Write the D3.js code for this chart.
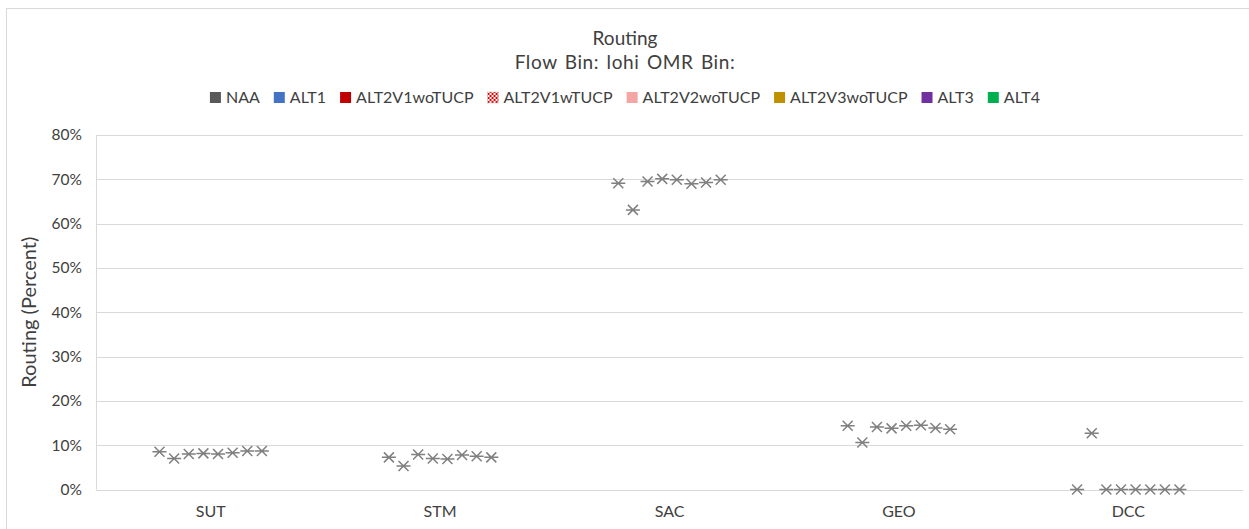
<!DOCTYPE html>
<html>
<head>
<meta charset="utf-8">
<script src="https://cdn.jsdelivr.net/npm/d3@7"></script>
<style>
  html, body { margin: 0; padding: 0; background: #fff; }
  svg { display: block; font-family: Lato, "Open Sans", sans-serif; }
</style>
</head>
<body>
<svg id="chart" width="1249" height="529"></svg>
<script>
const categories = ["SUT", "STM", "SAC", "GEO", "DCC"];
const seriesNames = ["NAA", "ALT1", "ALT2V1woTUCP", "ALT2V1wTUCP", "ALT2V2woTUCP", "ALT2V3woTUCP", "ALT3", "ALT4"];
const seriesColors = ["#595959", "#4472C4", "#C00000", "pattern", "#F4A6A4", "#BF9000", "#7030A0", "#00B050"];
// values in percent, one array per series (order follows categories)
const NAA          = [8.5, 7.25, 69.1, 14.4, 0.0];
const ALT1         = [7.0, 5.3, 63.1, 10.6, 12.7];
const ALT2V1woTUCP = [8.0, 7.9, 69.5, 14.1, 0.0];
const ALT2V1wTUCP  = [8.15, 7.0, 70.1, 13.8, 0.0];
const ALT2V2woTUCP = [8.0, 6.9, 69.9, 14.4, 0.0];
const ALT2V3woTUCP = [8.3, 7.8, 69.0, 14.5, 0.0];
const ALT3         = [8.7, 7.5, 69.3, 13.9, 0.0];
const ALT4         = [8.7, 7.25, 69.9, 13.6, 0.0];
const seriesValues = [NAA, ALT1, ALT2V1woTUCP, ALT2V1wTUCP, ALT2V2woTUCP, ALT2V3woTUCP, ALT3, ALT4];
const yTicks = [0, 10, 20, 30, 40, 50, 60, 70, 80];

const svg = d3.select("#chart");
const plot = { left: 96, right: 1243, top: 135, bottom: 489.5 };

// pattern for ALT2V1wTUCP
const defs = svg.append("defs");
const pat = defs.append("pattern").attr("id", "checker").attr("patternUnits", "userSpaceOnUse")
  .attr("width", 4).attr("height", 4);
pat.append("rect").attr("width", 4).attr("height", 4).attr("fill", "#fff");
pat.append("rect").attr("width", 2).attr("height", 2).attr("fill", "#E00000");
pat.append("rect").attr("x", 2).attr("y", 2).attr("width", 2).attr("height", 2).attr("fill", "#E00000");

// outer chart border
svg.append("rect").attr("x", 6.5).attr("y", 8.5).attr("width", 1260).attr("height", 540)
  .attr("fill", "none").attr("stroke", "#d9d9d9").attr("stroke-width", 1);

const x0 = d3.scaleBand().domain(categories).range([plot.left, plot.right]);
const x1 = d3.scalePoint().domain(seriesNames).range([-51.2, 51.2]);
const y = d3.scaleLinear().domain([0, 80]).range([plot.bottom, plot.top]);

// gridlines
svg.append("g").selectAll("line").data(yTicks).join("line")
  .attr("x1", plot.left).attr("x2", plot.right)
  .attr("y1", d => Math.round(y(d)) + 0.5).attr("y2", d => Math.round(y(d)) + 0.5)
  .attr("stroke", "#d9d9d9").attr("stroke-width", 1);
svg.append("line").attr("x1", plot.left + 0.5).attr("x2", plot.left + 0.5)
  .attr("y1", y(80)).attr("y2", y(0)).attr("stroke", "#d9d9d9");

// y axis
const yAxis = d3.axisLeft(y).tickValues(yTicks).tickFormat(d => d + "%").tickSize(0).tickPadding(14);
const gy = svg.append("g").attr("transform", `translate(${plot.left},0)`).call(yAxis);
gy.select(".domain").remove();
gy.selectAll("text").attr("font-size", 15.5).attr("fill", "#404040").attr("font-family", "Lato, sans-serif");

// x axis
const xAxis = d3.axisBottom(x0).tickSize(0).tickPadding(16);
const gx = svg.append("g").attr("transform", `translate(0,${plot.bottom})`).call(xAxis);
gx.select(".domain").remove();
gx.selectAll("text").attr("font-size", 16).attr("fill", "#404040").attr("font-family", "Lato, sans-serif");

// y title
svg.append("text").attr("transform", `translate(36,${(plot.top + plot.bottom) / 2}) rotate(-90)`)
  .attr("text-anchor", "middle").attr("font-size", 20).attr("fill", "#404040").text("Routing (Percent)");

// titles
svg.append("text").attr("x", 625).attr("y", 45).attr("text-anchor", "middle")
  .attr("font-size", 19).attr("fill", "#404040").text("Routing");
svg.append("text").attr("x", 625).attr("y", 69).attr("text-anchor", "middle")
  .attr("font-size", 19).attr("word-spacing", 2).attr("letter-spacing", 0.6)
  .attr("fill", "#404040").text("Flow Bin: lohi OMR Bin:");

// legend
const lg = svg.append("g");
let lx = 0;
seriesNames.forEach((name, i) => {
  const g = lg.append("g").attr("transform", `translate(${lx},0)`);
  g.append("rect").attr("x", 0).attr("y", -5).attr("width", 11).attr("height", 11)
    .attr("fill", seriesColors[i] === "pattern" ? "url(#checker)" : seriesColors[i])
    .attr("stroke", seriesColors[i] === "pattern" ? "#bbb" : "none").attr("stroke-width", 0.5);
  const t = g.append("text").attr("x", 16).attr("y", 6).attr("font-size", 16).attr("fill", "#404040").text(name);
  const w = t.node().getComputedTextLength();
  lx += 16 + w + 14;
});
const legendW = lx - 14;
lg.attr("transform", `translate(${625 - legendW / 2},97)`);

// markers (star: X plus horizontal line)
const star = "M-7,0H7M-5,-5L5,5M-5,5L5,-5";
const marks = svg.append("g");
seriesNames.forEach((name, i) => {
  marks.append("g").selectAll("path").data(seriesValues[i]).join("path")
    .attr("transform", (d, j) => `translate(${x0(categories[j]) + x0.bandwidth() / 2 + x1(name)},${y(d)})`)
    .attr("d", star).attr("fill", "none").attr("stroke", "#808080").attr("stroke-width", 1.5);
});
</script>
</body>
</html>
